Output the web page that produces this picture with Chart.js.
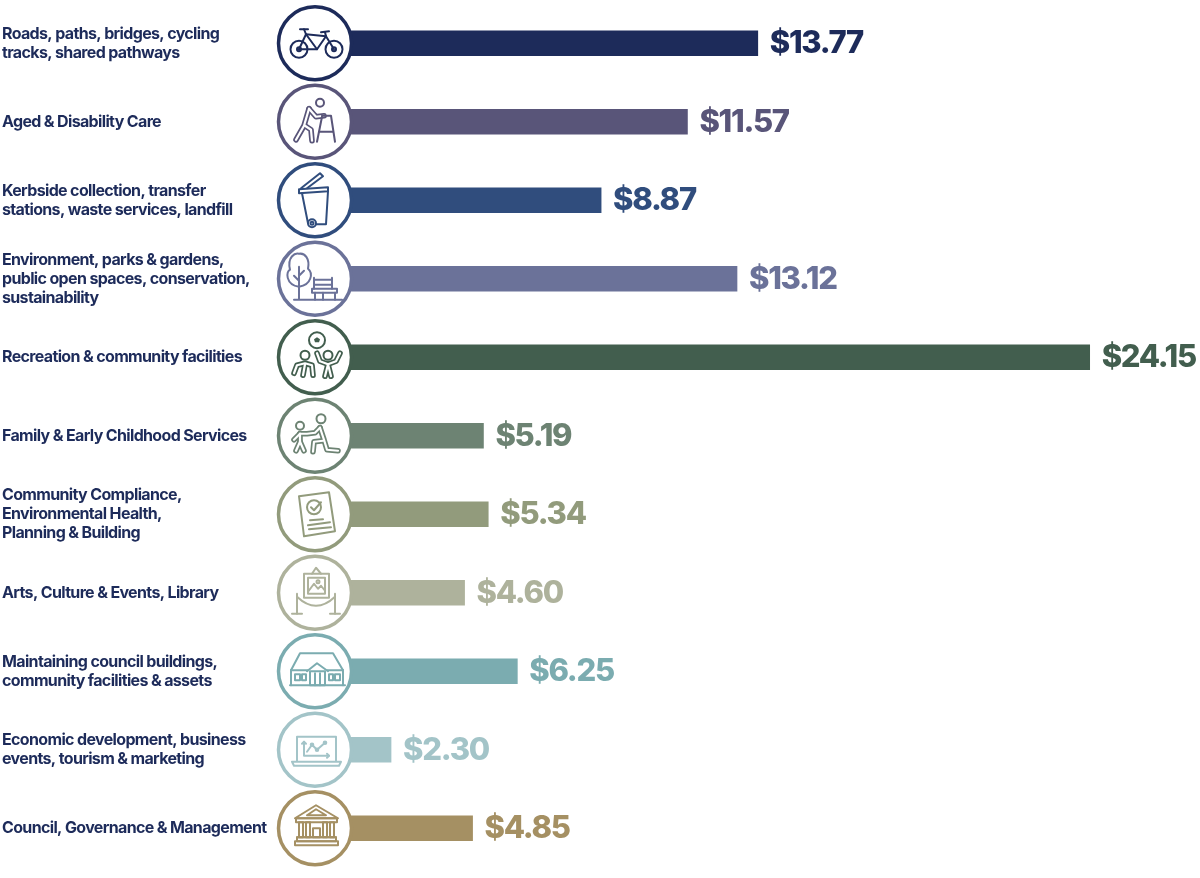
<!DOCTYPE html>
<html>
<head>
<meta charset="utf-8">
<script src="https://cdn.jsdelivr.net/npm/chart.js@4"></script>
<style>
    html, body { margin: 0; padding: 0; background: #fff; }
    canvas { display: block; }
</style>
</head>
<body>
<canvas id="myChart" width="1200" height="878"></canvas>
<script>
const categories = [
    ['Roads, paths, bridges, cycling', 'tracks, shared pathways'],
    ['Aged & Disability Care'],
    ['Kerbside collection, transfer', 'stations, waste services, landfill'],
    ['Environment, parks & gardens,', 'public open spaces, conservation,', 'sustainability'],
    ['Recreation & community facilities'],
    ['Family & Early Childhood Services'],
    ['Community Compliance,', 'Environmental Health,', 'Planning & Building'],
    ['Arts, Culture & Events, Library'],
    ['Maintaining council buildings,', 'community facilities & assets'],
    ['Economic development, business', 'events, tourism & marketing'],
    ['Council, Governance & Management']
];
const values = [13.77, 11.57, 8.87, 13.12, 24.15, 5.19, 5.34, 4.60, 6.25, 2.30, 4.85];
const colours = ['#1d2b5a', '#595579', '#304d7d', '#6b7299', '#425e4e', '#6d8373', '#929b7c', '#aeb29c', '#7bacb0', '#a3c4c8', '#a59063'];
const labelColour = '#1d2b5a';
const labelFont = '700 16px Inter';
const valueFont = '800 31px Inter';

// little helpers for the pictograms, all relative to the circle centre
let g;
function line(pts, close) {
    g.beginPath();
    pts.forEach((p, i) => i ? g.lineTo(p[0], p[1]) : g.moveTo(p[0], p[1]));
    if (close) g.closePath();
    g.stroke();
}
function ring(x, y, r) {
    g.beginPath();
    g.arc(x, y, r, 0, Math.PI * 2);
    g.stroke();
}
function box(x, y, w, h) {
    g.strokeRect(x, y, w, h);
}
// hollow limbs: thick colour pass, then a thin white pass inside it
function limbs(list) {
    const keep = g.strokeStyle;
    const w = g.lineWidth;
    g.lineWidth = 5.6;
    list.forEach(pts => line(pts));
    g.strokeStyle = '#fff';
    g.lineWidth = 2.2;
    list.forEach(pts => line(pts));
    g.strokeStyle = keep;
    g.lineWidth = w;
}

const icons = [
    function bike() {
        ring(-16, 6, 8.5); ring(19, 6, 8.5); ring(-16, 6, 2); ring(19, 6, 2);
        line([[-16, 6], [-9, -9], [11, -7], [19, 6]]);
        line([[-9, -9], [2, 6], [11, -7]]);
        line([[-16, 6], [2, 6]]);
        line([[-15, -14], [-7, -14]]);
        line([[-11, -14], [-9, -9]]);
        line([[6, -11], [14, -12]]);
        line([[10, -11], [11, -7]]);
    },
    function walker() {
        ring(5, -19, 4);
        limbs([
            [[-6, -13], [-11, 4], [-19, 18]],
            [[-10, 4], [-4, 8], [-3, 19]],
            [[-6, -13], [1, -5], [9, -6]]
        ]);
        line([[7, -5], [2, 20]]);
        line([[7, -6], [16, -6], [20, 20]]);
        line([[4, 10], [18, 10]]);
    },
    function bin() {
        line([[-16, -11], [13, -13], [13, -9], [-16, -7]], true);
        line([[-14, -12], [5, -27], [8, -24], [-8, -12]]);
        line([[-13, -7], [-7, 23]]);
        line([[13, -9], [11, 24], [1, 24]]);
        ring(-3, 23, 4); ring(-3, 23, 1.5);
    },
    function treeBench() {
        g.beginPath();
        g.moveTo(-16, 8);
        g.bezierCurveTo(-30, 6, -29, -8, -25, -9);
        g.bezierCurveTo(-28, -22, -20, -26, -16, -25);
        g.bezierCurveTo(-10, -26, -5, -20, -7, -10);
        g.bezierCurveTo(-2, -6, -3, 6, -16, 8);
        g.stroke();
        line([[-16, -12], [-16, 20]]);
        line([[-16, -3], [-11, -8]]);
        line([[-16, 2], [-21, -3]]);
        line([[-21, 21], [27, 21]]);
        line([[-1, -1], [-1, 10]]);
        line([[17, -1], [17, 10]]);
        line([[-1, 1], [17, 1]]);
        line([[-1, 6], [17, 6]]);
        box(-3, 10, 25, 4);
        line([[0, 14], [0, 21]]);
        line([[8, 14], [8, 21]]);
        line([[20, 14], [20, 21]]);
    },
    function players() {
        ring(2, -17, 8);
        g.beginPath();
        [[2, -20], [-1, -18], [0, -15], [4, -15], [5, -18]].forEach((p, i) => i ? g.lineTo(p[0], p[1]) : g.moveTo(p[0], p[1]));
        g.closePath();
        g.fillStyle = g.strokeStyle;
        g.fill();
        ring(-10, -2, 4.5); ring(13, -2, 4.5);
        limbs([
            [[-21, 16], [-18, 8], [-10, 6], [-3, 8], [-2, 18]],
            [[-10, 7], [-12, 18]],
            [[2, -4], [5, 4], [13, 7], [21, 4], [25, -4]],
            [[13, 7], [10, 19]],
            [[13, 7], [16, 19]]
        ]);
    },
    function kneeling() {
        ring(6, -17, 4.5); ring(-15, -10, 4);
        limbs([
            [[-15, -2], [-15, 6], [-19, 15]],
            [[-15, 6], [-11, 15]],
            [[-15, -2], [-21, 4]],
            [[-15, -2], [-8, -2], [0, -3], [5, -8]],
            [[5, -8], [9, 4], [12, 14], [23, 15]],
            [[8, 5], [-1, 6], [-2, 16]]
        ]);
    },
    function clipboard() {
        line([[-16, -18], [14, -22], [20, 17], [-11, 22]], true);
        ring(-1, -7, 7);
        line([[-4, -7], [-1, -4], [6, -12]]);
        line([[-5, 6], [8, 5]]);
        line([[-7, 11], [15, 8]]);
        line([[-6, 15], [16, 13]]);
    },
    function painting() {
        box(-11, -19, 25, 24);
        box(-7, -15, 17, 16);
        line([[-3, -19], [1, -25], [6, -19]]);
        line([[-7, -1], [-1, -9], [3, -4], [6, -7], [10, -2]]);
        ring(3, -11, 1.5);
        line([[-18, 1], [-18, 21]]);
        line([[20, 1], [20, 21]]);
        line([[-23, 21], [-13, 21]]);
        line([[15, 21], [25, 21]]);
        g.beginPath();
        g.moveTo(-18, 4);
        g.quadraticCurveTo(1, 22, 20, 4);
        g.stroke();
    },
    function hall() {
        line([[-24, -1], [-15, -18], [18, -18], [28, -1]]);
        line([[-25, 14], [30, 14]]);
        line([[-24, -1], [-24, 14]]);
        line([[28, -1], [28, 14]]);
        line([[-24, -1], [-7, -1]]);
        line([[12, -1], [28, -1]]);
        line([[-8, 0], [2, -8], [13, 0]]);
        box(-5, 0, 15, 14);
        line([[0, 2], [0, 14]]);
        line([[5, 2], [5, 14]]);
        box(-20, 3, 5, 6); box(-13, 3, 4, 6);
        box(14, 3, 4, 6); box(20, 3, 5, 6);
    },
    function laptop() {
        line([[-18, 11], [-18, -13], [21, -13], [21, 11]]);
        line([[-23, 12], [26, 12], [24, 16], [-21, 16]], true);
        line([[-11, -8], [-11, 6], [14, 6]]);
        line([[-13, -6], [-11, -8], [-9, -6]]);
        line([[12, 4], [14, 6], [12, 8]]);
        line([[-8, 2], [-3, -5], [2, 0], [10, -7]]);
        ring(-3, -5, 1.3); ring(10, -7, 1.3); ring(2, 0, 1.3);
    },
    function temple() {
        line([[-20, -10], [1, -23], [23, -10]], true);
        line([[-8, -13], [1, -19], [11, -13]], true);
        box(-19, -10, 41, 4);
        [-16, -9, 8, 15].forEach(x => box(x, -6, 4, 15));
        box(-2, 0, 7, 9);
        line([[-18, 9], [21, 9]]);
        box(-18, 9, 39, 4);
        box(-20, 13, 43, 4);
    }
];

const barLabels = {
    id: 'barLabels',
    afterDatasetsDraw(chart) {
        const c = chart.ctx;
        const bars = chart.getDatasetMeta(0).data;
        g = c;
        bars.forEach((bar, i) => {
            // value at the end of the bar
            c.save();
            c.font = valueFont;
            c.letterSpacing = '-1.3px';
            c.fillStyle = colours[i];
            c.textAlign = 'left';
            c.textBaseline = 'middle';
            c.fillText('$' + values[i].toFixed(2), bar.x + 12, bar.y + 0.5);
            c.restore();

            // category text on the left
            c.save();
            c.font = labelFont;
            c.letterSpacing = '-0.65px';
            c.fillStyle = labelColour;
            c.textAlign = 'left';
            c.textBaseline = 'middle';
            const lines = categories[i];
            lines.forEach((txt, k) => {
                c.fillText(txt, 2, bar.y + (k - (lines.length - 1) / 2) * 19);
            });
            c.restore();

            // circle and pictogram over the start of the bar
            c.save();
            c.translate(315, bar.y);
            c.beginPath();
            c.arc(0, 0, 36.5, 0, Math.PI * 2);
            c.fillStyle = '#fff';
            c.fill();
            c.strokeStyle = colours[i];
            c.lineWidth = 3.5;
            c.stroke();
            c.lineWidth = 2;
            c.lineJoin = 'round';
            c.lineCap = 'round';
            icons[i]();
            c.restore();
        });
    }
};

new Chart(document.getElementById('myChart'), {
    type: 'bar',
    data: {
        labels: categories,
        datasets: [{
            data: values,
            backgroundColor: colours,
            barThickness: 25,
            borderWidth: 0
        }]
    },
    options: {
        indexAxis: 'y',
        responsive: false,
        animation: false,
        layout: { padding: { left: 317.5, top: 4, bottom: 10.5, right: 0 } },
        plugins: { legend: { display: false }, tooltip: { enabled: false } },
        scales: {
            x: { display: false, min: 0, max: 27.6 },
            y: { display: false }
        }
    },
    plugins: [barLabels]
});
</script>
</body>
</html>
